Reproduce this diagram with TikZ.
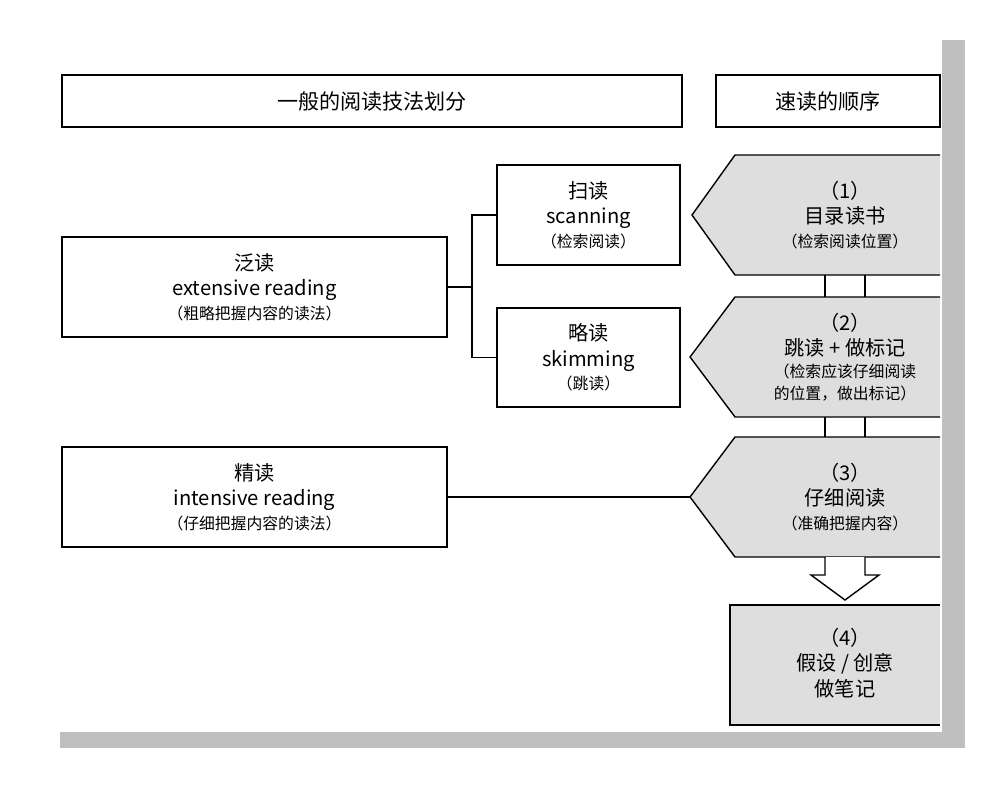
\documentclass[tikz,border=0pt]{standalone}
\usepackage{fontspec}
\setmainfont{Noto Sans CJK SC}
\usetikzlibrary{positioning}

\tikzset{
  box/.style={draw, thick, fill=white, align=center, inner sep=0pt},
  stage/.style={draw, thick, fill=black!13},
  big/.style={font=\fontsize{12}{15}\selectfont},
  txt/.style={align=center, font=\fontsize{11.5}{14.5}\selectfont}
}

\begin{document}
\begin{tikzpicture}[x=0.02cm, y=-0.02cm]
\useasboundingbox (0,0) rectangle (1000,788);
% page and its shadow
\fill[black!25] (60,40) rectangle (965,748);
\fill[white] (0,0) rectangle (942,732);

% headers
\node[box, minimum width=620*0.02cm, minimum height=52*0.02cm, big] (hl) at (372,101) {一般的阅读技法划分};
\node[box, minimum width=224*0.02cm, minimum height=52*0.02cm, big] (hr) at (828,101) {速读的顺序};

% left column
\node[box, minimum width=385*0.02cm, minimum height=100*0.02cm, txt] (ext) at (254.5,287)
  {泛读\\extensive reading\\[-1pt]{\small （粗略把握内容的读法）}};
\node[box, minimum width=183*0.02cm, minimum height=100*0.02cm, txt] (scan) at (588.5,215)
  {扫读\\scanning\\[-1pt]{\small （检索阅读）}};
\node[box, minimum width=183*0.02cm, minimum height=99*0.02cm, txt] (skim) at (588.5,357.5)
  {略读\\skimming\\[-1pt]{\small （跳读）}};
\node[box, minimum width=385*0.02cm, minimum height=100*0.02cm, txt] (int) at (254.5,497)
  {精读\\intensive reading\\[-1pt]{\small （仔细把握内容的读法）}};

\coordinate (fork) at (472,287);
\draw[thick] (ext.east) -- (fork);
\draw[thick] (scan.west) -| (fork) |- (skim.west);

% steps
\draw[thick] (825,275) -- (825,297) (865,275) -- (865,297);
\draw[thick] (825,417) -- (825,437) (865,417) -- (865,437);
\draw[stage] (940,155) -- (735,155) -- (692,215) -- (735,275) -- (940,275);
\draw[stage] (940,297) -- (735,297) -- (690,357) -- (735,417) -- (940,417);
\draw[stage] (940,437) -- (735,437) -- (690,497) -- (735,557) -- (940,557);
\coordinate (s3) at (690,497);
\draw[thick] (int.east) -- (s3);
\draw[thick, fill=white] (825,557) -- (825,575) -- (811,575) -- (845,600) -- (879,575) -- (865,575) -- (865,557);
\draw[stage] (940,605) -- (730,605) -- (730,725) -- (940,725);

\node[txt] (t1) at (845,215) {（1）\\目录读书\\[-1pt]{\small （检索阅读位置）}};
\node[txt] (t2) at (845,357) {（2）\\跳读 + 做标记\\[-2pt]{\small （检索应该仔细阅读}\\[-2pt]{\small 的位置，做出标记）}};
\node[txt] (t3) at (845,497) {（3）\\仔细阅读\\[-1pt]{\small （准确把握内容）}};
\node[txt] (t4) at (845,663) {（4）\\假设 / 创意\\做笔记};
\end{tikzpicture}
\end{document}
